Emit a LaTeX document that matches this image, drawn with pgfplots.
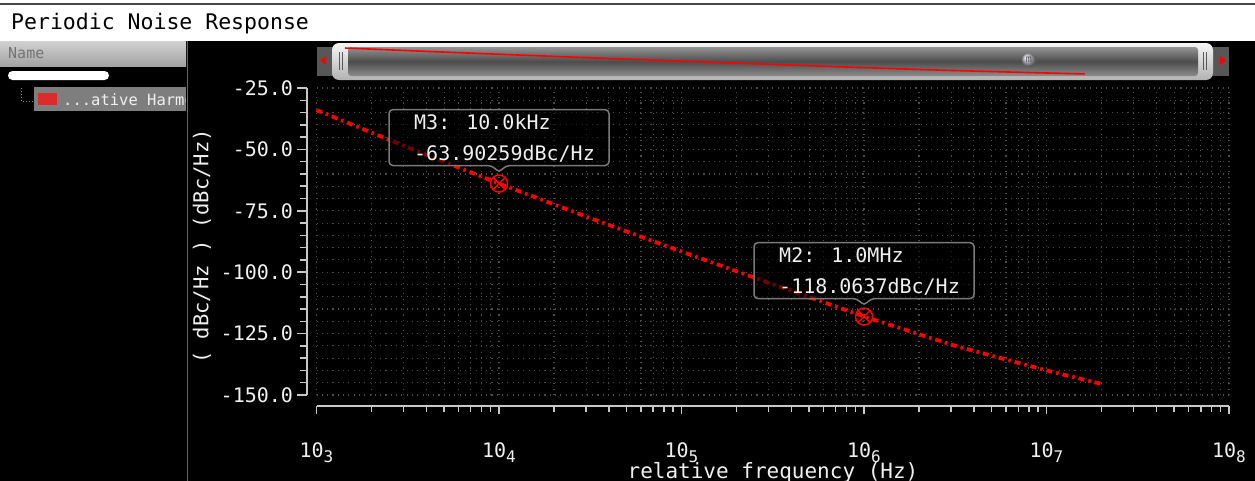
\documentclass[border=0pt]{standalone}
\usepackage{pgfplots}
\pgfplotsset{compat=1.18}
\usepackage{pgfplotstable}
\usepackage{fontspec}
\setmainfont{DejaVu Sans Mono}

\definecolor{tickgray}{HTML}{C8C8C8}
\definecolor{gridgray}{HTML}{4C4C4C}
\definecolor{labelwhite}{HTML}{F0F0F0}
\definecolor{panelgray}{HTML}{7E7E7E}
\definecolor{itemred}{HTML}{DD2B2B}
\definecolor{tracered}{HTML}{FF0000}
\definecolor{boxgray}{HTML}{7A7A7A}

\newcommand\fs[1]{\fontsize{#1bp}{#1bp}\selectfont}
\newcommand\dec[1]{10\raisebox{-0.45ex}{\fs{16}#1}}

\newcommand\callout[3]{%
  \begin{scope}[shift={(#1)}, x=1bp, y=1bp]
    \draw[boxgray, line width=1.5bp, fill=black, fill opacity=0.55, rounded corners=4bp]
      (0,11) -- (7,18) -- (110,18) -- (110,74) -- (-110,74) -- (-110,18) -- (-7,18) -- cycle;
    \node[anchor=base west, inner sep=0, text=labelwhite, font=\fs{20}] at (-85,54) {#2};
    \node[anchor=base west, inner sep=0, text=labelwhite, font=\fs{20}] at (-85,23) {#3};
  \end{scope}}

% relative frequency (Hz) vs periodic noise (dBc/Hz)
\pgfplotstableread{
f pn
1000 -34.0
3162.28 -49.2
10000 -63.90259
31622.8 -78.0
100000 -91.6
316228 -104.9
1000000 -118.0637
3162280 -130.0
10000000 -140.0
20000000 -145.5
}\noise

\begin{document}
\begin{tikzpicture}
\path[use as bounding box] (0,0) rectangle (1255bp,-481bp);
\clip (0,0) rectangle (1255bp,-481bp);

\begin{scope}[x=1bp,y=-1bp]
  % title bar
  \fill[white] (0,0) rectangle (1255,41);
  \fill[black!72] (0,3) rectangle (1255,5.5);
  \node[anchor=base west, inner sep=0, text=black, font=\fs{21.5}] at (11,29) {Periodic Noise Response};
  % dark panels
  \fill[black] (0,41) rectangle (1255,481);
  % name header
  \shade[top color=black!18, bottom color=black!36] (0,41) rectangle (186,66);
  \node[anchor=west, inner sep=0, text=black!55, font=\fs{15}] at (8,53) {Name};
  \fill[white, rounded corners=4.5bp] (8,71) rectangle (109,80);
  \draw[black!45, dotted, line width=1bp] (21,88) -- (21,101) -- (34,101);
  \fill[panelgray] (34,87) rectangle (186,111);
  \fill[itemred] (38,93) rectangle (57,105);
  \begin{scope}
    \clip (34,87) rectangle (185,111);
    \node[anchor=base west, inner sep=0, text=labelwhite, font=\fs{15.5}] at (63,105) {...ative Harmonic};
  \end{scope}
  % separator
  \draw[black!60, line width=1.5bp] (187.5,41) -- (187.5,481);
  % scrollbar
  \fill[black!66] (317,47) rectangle (1229,76);
  \fill[tracered] (326,56) -- (326,65) -- (320,60.5) -- cycle;
  \fill[tracered] (1220,56) -- (1220,65) -- (1226,60.5) -- cycle;
  \shade[rounded corners=7bp, top color=black!4, bottom color=black!30] (332,43) rectangle (1213,80);
  \shade[rounded corners=3bp, top color=black!42, bottom color=black!45, middle color=black!70] (348,47) rectangle (1198,76);
  \draw[black!65, line width=1.2bp] (339.5,52) -- (339.5,70) (342.5,52) -- (342.5,70);
  \draw[black!65, line width=1.2bp] (1203.5,52) -- (1203.5,70) (1206.5,52) -- (1206.5,70);
  \shade[ball color=blue!15!black!25] (1029,60) circle (7);
  \node[inner sep=0, text=black!70, font=\fs{10}] at (1029,60) {m};
\end{scope}

% overview trace inside scrollbar
\begin{axis}[at={(345bp,-78bp)}, anchor=south west, scale only axis,
  width=860bp, height=33bp, xmode=log, xmin=1e3, xmax=1e8,
  ymin=-163, ymax=-21, hide axis, clip=false]
  \addplot[tracered, line width=1.6bp] table[x=f,y=pn]{\noise};
\end{axis}

% main plot: grid, trace, markers
\begin{axis}[at={(316.5bp,-395bp)}, anchor=south west, scale only axis,
  width=912.5bp, height=307bp, xmode=log, xmin=1e3, xmax=1e8,
  ymin=-150, ymax=-25,
  xtick={1e3,1e4,1e5,1e6,1e7,1e8}, ytick={-150,-125,...,-25}, minor y tick num=4,
  grid=both,
  major grid style={gridgray, line width=1.1bp, dash pattern=on 1.1bp off 4.2bp},
  minor grid style={gridgray, line width=1.1bp, dash pattern=on 1.1bp off 4.2bp},
  axis line style={draw=none}, major tick length=0pt, minor tick length=0pt,
  xticklabels={}, yticklabels={}, clip=false]
  \addplot[tracered, line width=3.8bp, dash pattern=on 6bp off 4bp on 2.5bp off 4bp]
    table[x=f,y=pn]{\noise};
  \addplot[only marks, mark=otimes, mark size=8.5bp, tracered,
    mark options={line width=1.5bp, solid}] coordinates {(1e4,-63.90259) (1e6,-118.0637)};
  \coordinate (m3) at (axis cs:1e4,-63.90259);
  \coordinate (m2) at (axis cs:1e6,-118.0637);
\end{axis}

\callout{m3}{M3: 10.0kHz}{-63.90259dBc/Hz}
\callout{m2}{M2: 1.0MHz}{-118.0637dBc/Hz}

% y ruler
\begin{axis}[at={(306.5bp,-395bp)}, anchor=south west, scale only axis,
  width=1bp, height=307bp, xmin=0, xmax=1, ymin=-150, ymax=-25,
  axis x line=none, axis y line*=left,
  y axis line style={-, tickgray, line width=2bp},
  ytick={-150,-125,...,-25},
  yticklabels={-150.0,-125.0,-100.0,-75.0,-50.0,-25.0},
  minor y tick num=4, tick align=outside,
  major tick length=10bp, minor tick length=6.5bp,
  tick style={tickgray, line width=1.5bp},
  yticklabel style={text=labelwhite, font=\fs{20}}]
\end{axis}

% x ruler
\begin{axis}[at={(316.5bp,-406bp)}, anchor=south west, scale only axis,
  width=912.5bp, height=1bp, xmode=log, xmin=1e3, xmax=1e8, ymin=0, ymax=1,
  axis y line=none, axis x line*=bottom,
  x axis line style={-, tickgray, line width=2bp},
  xtick={1e3,1e4,1e5,1e6,1e7,1e8},
  xticklabels={\dec{3},\dec{4},\dec{5},\dec{6},\dec{7},\dec{8}},
  tick align=outside, major tick length=8bp, minor tick length=6bp,
  tick style={tickgray, line width=1.5bp},
  xticklabel style={text=labelwhite, font=\fs{20}, yshift=-25bp}]
\end{axis}

% axis titles
\node[rotate=90, inner sep=0, text=labelwhite, font=\fs{20.5}] at (202bp,-246.5bp) {( dBc/Hz ) (dBc/Hz)};
\node[anchor=base, inner sep=0, text=labelwhite, font=\fs{21}] at (773bp,-478bp) {relative frequency (Hz)};
\end{tikzpicture}
\end{document}
